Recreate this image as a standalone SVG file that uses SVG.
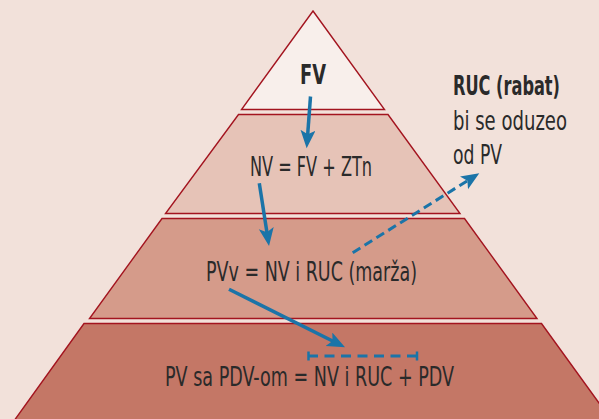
<svg xmlns="http://www.w3.org/2000/svg" width="599" height="419" viewBox="0 0 599 419">
<style>
.tier{stroke:#a3141f;stroke-width:1.4;stroke-linejoin:miter}
.t{font-family:"DejaVu Sans Condensed","Liberation Sans Narrow","Liberation Sans",sans-serif;font-size:27px;fill:#2a2a2a}
.n{font-size:24px}
.b{font-weight:bold}
.arr{stroke:#1b74a8;stroke-width:3.5;fill:none}
.dash{stroke:#1b74a8;stroke-width:3;fill:none;stroke-dasharray:9 5}
</style>
<defs>
<marker id="head" markerUnits="userSpaceOnUse" markerWidth="20" markerHeight="16" refX="8" refY="7.5" orient="auto">
<path d="M0,0 L18,7.5 L0,15 L4,7.5 z" fill="#1b74a8"/>
</marker>
</defs>
<rect width="599" height="419" fill="#f2e1da"/>
<g id="tier-fv">
<polygon class="tier" points="313,11 384.5,109.5 241.5,109.5" fill="#f8efeb"/>
<text class="t b" x="300" y="84" textLength="26" lengthAdjust="spacingAndGlyphs">FV</text>
</g>
<g id="tier-nv">
<polygon class="tier" points="238.5,114.5 388,114.5 460,213.5 165.5,213.5" fill="#e6c3b7"/>
<text class="t" x="250" y="176" textLength="122" lengthAdjust="spacingAndGlyphs">NV = FV + ZTn</text>
</g>
<g id="tier-pvv">
<polygon class="tier" points="162,218.5 464.5,218.5 537,318.5 89.5,318.5" fill="#d59b8a"/>
<text class="t" x="206" y="281" textLength="211" lengthAdjust="spacingAndGlyphs">PVv = NV i RUC (marža)</text>
</g>
<g id="tier-pv">
<polygon class="tier" points="84,323.5 541.5,323.5 620,432 6,432" fill="#c47766"/>
<text class="t" x="165" y="386" textLength="289" lengthAdjust="spacingAndGlyphs">PV sa PDV-om = NV i RUC + PDV</text>
</g>
<g id="note-ruc">
<text class="t n b" transform="translate(453,95) scale(1,1.12)" x="0" y="0" textLength="107" lengthAdjust="spacingAndGlyphs">RUC (rabat)</text>
<text class="t n" transform="translate(453,130) scale(1,1.12)" x="0" y="0" textLength="114" lengthAdjust="spacingAndGlyphs">bi se oduzeo</text>
<text class="t n" transform="translate(453,164) scale(1,1.12)" x="0" y="0" textLength="49" lengthAdjust="spacingAndGlyphs">od PV</text>
</g>
<g id="connectors">
<line class="arr" x1="310.5" y1="96.5" x2="307.4" y2="138.3" marker-end="url(#head)"/>
<line class="arr" x1="259.3" y1="183.3" x2="267.5" y2="236.1" marker-end="url(#head)"/>
<line class="arr" x1="229" y1="289.3" x2="336.1" y2="342.8" marker-end="url(#head)"/>
<line class="dash" x1="352.7" y1="252.7" x2="470.8" y2="178.6" marker-end="url(#head)"/>
<line stroke="#1b74a8" stroke-width="3" stroke-dasharray="10 6.5" x1="308" y1="356" x2="418" y2="356"/>
<line stroke="#1b74a8" stroke-width="2.5" x1="308.5" y1="351.5" x2="308.5" y2="360.5"/>
<line stroke="#1b74a8" stroke-width="2.5" x1="417" y1="351.5" x2="417" y2="360.5"/>
</g>
</svg>
